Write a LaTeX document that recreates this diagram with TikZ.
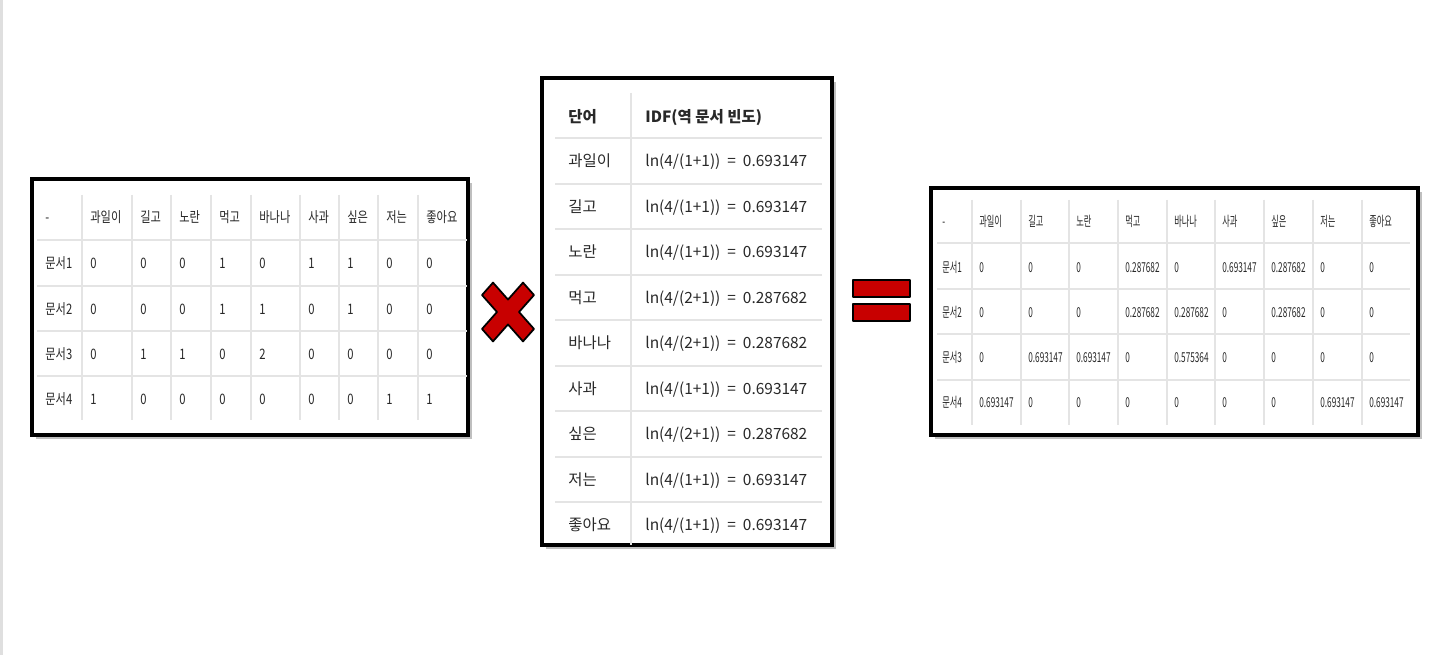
\documentclass[tikz,border=0pt]{standalone}
\usepackage{fontspec}
\setmainfont{Noto Sans CJK KR}
\newfontfamily\midfont{Noto Sans CJK KR}
\newfontfamily\leftfont{Noto Sans CJK KR}[FakeStretch = 0.78]
\newfontfamily\rightfont{Noto Sans CJK KR}[FakeStretch = 0.6]
\usetikzlibrary{shadows}

\definecolor{signred}{RGB}{200,0,0}
\definecolor{cellline}{RGB}{228,228,228}
\definecolor{celltext}{RGB}{40,40,40}

\tikzset{
	tablebox/.style = {fill = white, draw = black, line width = 2.3pt,
		drop shadow = {shadow xshift = 2pt, shadow yshift = -2pt, opacity = .5}},
	gridrule/.style = {cellline, line width = 0.6pt},
	cell/.style = {anchor = west, inner sep = 0pt, text height = 0.8em, text depth = 0.12em, text = celltext},
	sign/.style = {fill = signred, draw = black, line width = 1pt, line join = round},
}

\def\leftcols{{45, 90, 140, 179, 219, 259, 308, 347, 386, 426}}
\def\rightcols{{942, 979, 1028, 1076, 1125, 1174, 1222, 1271, 1320, 1369}}

\begin{document}
\begin{tikzpicture}[x = 0.02cm, y = -0.02cm]
	\useasboundingbox (0, 0) rectangle (1447, 655);
	\fill[gray!25] (0, 0) rectangle (3, 655);
	
	% left table
	\draw[tablebox] (32, 179) rectangle (468, 435);
	\foreach \y in {240, 286, 331, 376}
		\draw[gridrule] (37, \y) -- (467, \y);
	\foreach \x in {82, 132, 171, 211, 251, 300, 339, 378, 418}
		\draw[gridrule] (\x, 195) -- (\x, 420);
	\begin{scope}[every node/.style = {cell, font = \leftfont\fontsize{8.2}{10}\selectfont}]
		\foreach \t [count = \c from 0] in {-, 과일이, 길고, 노란, 먹고, 바나나, 사과, 싶은, 저는, 좋아요} {
			\pgfmathsetmacro\xx{\leftcols[\c]}
			\node (l-h\c) at (\xx, 217) {\t};
		}
		\foreach \lab/\vals [count = \r] in {문서1/{0,0,0,1,0,1,1,0,0}, 문서2/{0,0,0,1,1,0,1,0,0}, 문서3/{0,1,1,0,2,0,0,0,0}, 문서4/{1,0,0,0,0,0,0,1,1}} {
			\pgfmathsetmacro\yy{263 + 45.33 * (\r - 1)}
			\node (l-\r-0) at (45, \yy) {\lab};
			\foreach \v [count = \c] in \vals {
				\pgfmathsetmacro\xx{\leftcols[\c]}
				\node (l-\r-\c) at (\xx, \yy) {\v};
			}
		}
	\end{scope}
	
	% times sign
	\begin{scope}[shift = {(508, 312)}, yscale = 1.13]
		\draw[sign] (-26, -15) -- (-15, -26) -- (0, -11) -- (15, -26) -- (26, -15) -- (11, 0)
			-- (26, 15) -- (15, 26) -- (0, 11) -- (-15, 26) -- (-26, 15) -- (-11, 0) -- cycle;
	\end{scope}
	
	% idf table
	\draw[tablebox] (542, 78) rectangle (832, 545);
	\foreach \y in {138, 184, 229, 275, 320, 366, 411, 457, 502}
		\draw[gridrule] (555, \y) -- (822, \y);
	\draw[gridrule] (631, 93) -- (631, 545);
	\begin{scope}[every node/.style = {cell, font = \midfont\fontsize{8.8}{10}\selectfont}]
		\node[font = \midfont\bfseries\fontsize{8.8}{10}\selectfont] (m-h0) at (568, 117) {단어};
		\node[font = \midfont\bfseries\fontsize{8.8}{10}\selectfont] (m-h1) at (645, 117) {IDF(역 문서 빈도)};
		\foreach \w/\n/\v [count = \r] in {과일이/1/0.693147, 길고/1/0.693147, 노란/1/0.693147, 먹고/2/0.287682, 바나나/2/0.287682, 사과/1/0.693147, 싶은/2/0.287682, 저는/1/0.693147, 좋아요/1/0.693147} {
			\pgfmathsetmacro\yy{161 + 45.5 * (\r - 1)}
			\node (m-\r-0) at (568, \yy) {\w};
			\node (m-\r-1) at (645, \yy) {ln(4/(\n+1))\hspace{0.45em}=\hspace{0.45em}\v};
		}
	\end{scope}
	
	% equals sign
	\draw[sign] (853, 280) rectangle (910, 297);
	\draw[sign] (853, 304) rectangle (910, 321);
	
	% tf-idf table
	\draw[tablebox] (931, 188) rectangle (1418, 435);
	\foreach \y in {243, 289, 334, 380}
		\draw[gridrule] (937, \y) -- (1410, \y);
	\foreach \x in {972, 1021, 1069, 1118, 1167, 1215, 1264, 1313, 1362}
		\draw[gridrule] (\x, 200) -- (\x, 425);
	\begin{scope}[every node/.style = {cell, font = \rightfont\fontsize{7.8}{9}\selectfont}]
		\foreach \t [count = \c from 0] in {-, 과일이, 길고, 노란, 먹고, 바나나, 사과, 싶은, 저는, 좋아요} {
			\pgfmathsetmacro\xx{\rightcols[\c]}
			\node (r-h\c) at (\xx, 221) {\t};
		}
		\foreach \lab/\vals [count = \r] in {문서1/{0,0,0,0.287682,0,0.693147,0.287682,0,0}, 문서2/{0,0,0,0.287682,0.287682,0,0.287682,0,0}, 문서3/{0,0.693147,0.693147,0,0.575364,0,0,0,0}, 문서4/{0.693147,0,0,0,0,0,0,0.693147,0.693147}} {
			\pgfmathsetmacro\yy{267 + 45 * (\r - 1)}
			\node (r-\r-0) at (942, \yy) {\lab};
			\foreach \v [count = \c] in \vals {
				\pgfmathsetmacro\xx{\rightcols[\c]}
				\node (r-\r-\c) at (\xx, \yy) {\v};
			}
		}
	\end{scope}
\end{tikzpicture}
\end{document}
